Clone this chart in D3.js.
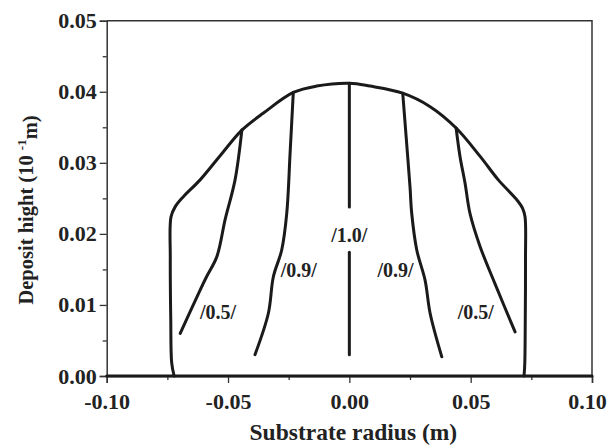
<!DOCTYPE html>
<html>
<head>
<meta charset="utf-8">
<script src="https://cdn.jsdelivr.net/npm/d3@7"></script>
<style>
  body { margin: 0; background: #fff; }
  text { font-family: "Liberation Serif", "Times New Roman", serif; font-weight: bold; fill: #222; }
</style>
</head>
<body>
<script>
// radius (m), height (10^-1 m)
const envelope = [
  [-0.0722, 0.0000], [-0.0732, 0.0018], [-0.0736, 0.0080], [-0.0738, 0.0167],
  [-0.0735, 0.0224], [-0.0718, 0.0238], [-0.0685, 0.0252], [-0.0615, 0.0276],
  [-0.0530, 0.0311], [-0.0443, 0.0346], [-0.0354, 0.0370], [-0.0231, 0.0399],
  [-0.0135, 0.0408], [0.0000, 0.0412], [0.0085, 0.0408], [0.0220, 0.0398],
  [0.0333, 0.0379], [0.0440, 0.0349], [0.0539, 0.0309], [0.0614, 0.0276],
  [0.0690, 0.0248], [0.0714, 0.0236], [0.0724, 0.0224], [0.0726, 0.0167],
  [0.0725, 0.0080], [0.0723, 0.0018], [0.0720, 0.0000]
];
const baseLine = [[-0.10, 0], [0.10, 0]];
const left05 = [
  [-0.0443, 0.0346], [-0.0471, 0.0276], [-0.0512, 0.0220], [-0.0546, 0.0168],
  [-0.0588, 0.0140], [-0.0615, 0.0121], [-0.0697, 0.0060]
];
const right05 = [
  [0.0440, 0.0349], [0.0456, 0.0309], [0.0477, 0.0271], [0.0497, 0.0229],
  [0.0539, 0.0182], [0.0600, 0.0130], [0.0683, 0.0062]
];
const left09 = [
  [-0.0231, 0.0399], [-0.0244, 0.0315], [-0.0258, 0.0229], [-0.0279, 0.0177],
  [-0.0313, 0.0140], [-0.0334, 0.0088], [-0.0389, 0.0030]
];
const right09 = [
  [0.0220, 0.0398], [0.0234, 0.0337], [0.0250, 0.0266], [0.0257, 0.0229],
  [0.0278, 0.0177], [0.0312, 0.0135], [0.0333, 0.0088], [0.0381, 0.0027]
];
const center10top = [[0, 0.0412], [0, 0.0238]];
const center10bottom = [[0, 0.0174], [0, 0.0030]];

const labels = [
  {text: "/1.0/", x: 0.0000, y: 0.0198},
  {text: "/0.9/", x: -0.0208, y: 0.0149},
  {text: "/0.9/", x: 0.0190, y: 0.0149},
  {text: "/0.5/", x: -0.0541, y: 0.0090},
  {text: "/0.5/", x: 0.0521, y: 0.0090}
];

const xTicks = [-0.10, -0.05, 0.00, 0.05, 0.10];
const xMinor = [-0.075, -0.025, 0.025, 0.075];
const yTicks = [0.00, 0.01, 0.02, 0.03, 0.04, 0.05];
const yMinor = [0.005, 0.015, 0.025, 0.035, 0.045];

const m = {top: 20.7, left: 106.7, right: 19, bottom: 70};
const W = 611, H = 446;
const w = W - m.left - m.right;
const h = H - m.top - m.bottom;

const fmt = d => d3.format(".2f")(d).replace("\u2212", "-");

const svg = d3.select("body").append("svg")
    .attr("width", W)
    .attr("height", H);

const g = svg.append("g")
    .attr("transform", `translate(${m.left}, ${m.top})`);

const x = d3.scaleLinear().domain([-0.10, 0.10]).range([0, w]);
const y = d3.scaleLinear().domain([0, 0.05]).range([h, 0]);

// axes
const xAx = g.append("g")
    .attr("transform", `translate(0, ${h})`)
    .call(d3.axisBottom(x).tickValues(xTicks).tickFormat(fmt).tickSize(7).tickPadding(10));
g.append("g")
    .attr("transform", `translate(0, ${h})`)
    .call(d3.axisBottom(x).tickValues(xMinor).tickFormat("").tickSize(4))
    .select(".domain").remove();

g.append("g")
    .call(d3.axisLeft(y).tickValues(yTicks).tickFormat(fmt).tickSize(7).tickPadding(3));
g.append("g")
    .call(d3.axisLeft(y).tickValues(yMinor).tickFormat("").tickSize(4))
    .select(".domain").remove();

g.selectAll(".tick line").attr("stroke", "#333").attr("stroke-width", 1.3);
g.selectAll(".domain").attr("stroke", "#333").attr("stroke-width", 1.5);
g.selectAll(".tick text").style("font-size", "22px").attr("fill", "#222");
// keep the last x label inside the page
xAx.selectAll(".tick text").filter(d => d === 0.10).attr("dx", -5);

// frame top and right
g.append("path")
    .attr("d", `M0,0H${w}V${h}`)
    .attr("fill", "none")
    .attr("stroke", "#333")
    .attr("stroke-width", 1.5);

const line = d3.line()
    .x(d => x(d[0]))
    .y(d => y(d[1]))
    .curve(d3.curveCatmullRom.alpha(0.5));

const curves = [baseLine, envelope, left05, right05, left09, right09, center10top, center10bottom];
g.selectAll(".curve")
    .data(curves)
    .enter()
    .append("path")
    .attr("class", "curve")
    .attr("d", line)
    .attr("fill", "none")
    .attr("stroke", "#1a1a1a")
    .attr("stroke-width", 3)
    .attr("stroke-linecap", "round")
    .attr("stroke-linejoin", "round");

g.selectAll(".lab")
    .data(labels)
    .enter()
    .append("text")
    .attr("class", "lab")
    .attr("x", d => x(d.x))
    .attr("y", d => y(d.y))
    .attr("dy", "0.35em")
    .attr("text-anchor", "middle")
    .style("font-size", "20px")
    .text(d => d.text);

// axis titles
svg.append("text")
    .attr("x", m.left + x(0) + 4)
    .attr("y", 440)
    .attr("text-anchor", "middle")
    .style("font-size", "23.5px")
    .text("Substrate radius (m)");

const yt = svg.append("text")
    .attr("transform", "translate(33, 210) rotate(-90)")
    .attr("text-anchor", "middle")
    .style("font-size", "20.5px");
yt.append("tspan").text("Deposit hight (10 ");
yt.append("tspan").attr("dy", "-0.55em").style("font-size", "13px").text("-1");
yt.append("tspan").attr("dy", "0.55em").text("m)");
</script>
</body>
</html>
